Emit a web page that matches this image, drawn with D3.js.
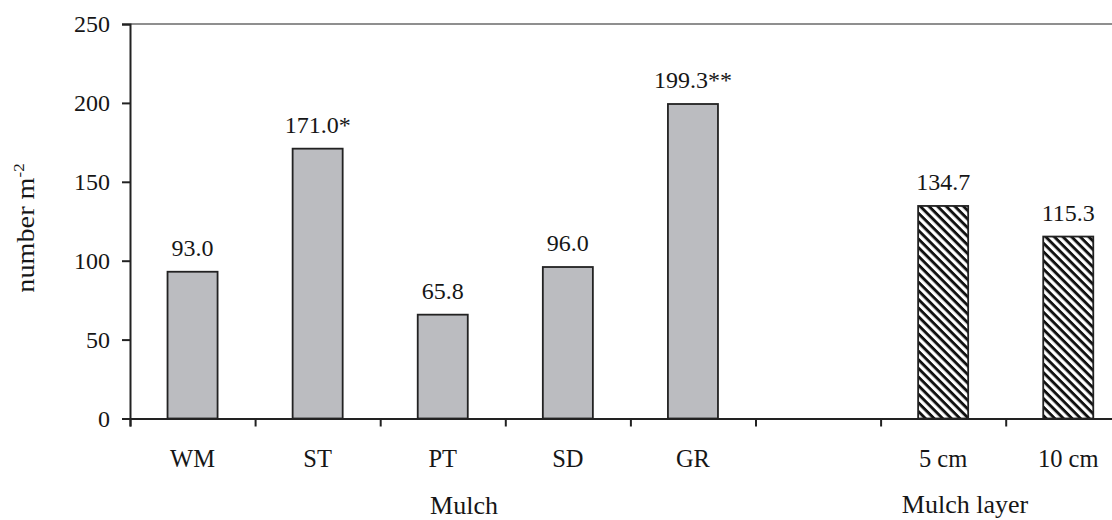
<!DOCTYPE html>
<html>
<head>
<meta charset="utf-8">
<script src="https://cdn.jsdelivr.net/npm/d3@7"></script>
<style>
  html, body { margin: 0; padding: 0; background: #fff; }
  svg { display: block; }
  text { font-family: "Liberation Serif", "Times New Roman", serif; fill: #161616; }
</style>
</head>
<body>
<svg id="chart" width="1112" height="520"></svg>
<script>
// Treatment categories (blank slot separates the two groups)
const categories = ["WM", "ST", "PT", "SD", "GR", "", "5 cm", "10 cm"];
// Number per square metre for each treatment
const values = [93.0, 171.0, 65.8, 96.0, 199.3, null, 134.7, 115.3];
// Significance marks appended to the value labels
const marks = ["", "*", "", "", "**", "", "", ""];
// Which bars belong to the mulch-layer group (hatched)
const hatched = [false, false, false, false, false, false, true, true];
// Y-axis ticks
const yTicks = [0, 50, 100, 150, 200, 250];
// Group captions under the axis
const groupNames = ["Mulch", "Mulch layer"];

const svg = d3.select("#chart");
const plotLeft = 130, plotTop = 24, plotBottom = 418.5;
const step = 125.1;
const plotRight = plotLeft + step * categories.length;

const x = d3.scaleBand()
  .domain(categories.map((c, i) => i))
  .range([plotLeft, plotRight])
  .paddingInner(0.6)
  .paddingOuter(0.3);

const xEdges = d3.scaleLinear().domain([0, categories.length]).range([plotLeft, plotRight]);

const y = d3.scaleLinear().domain([0, 250]).range([plotBottom, plotTop]);

// hatch pattern for the mulch-layer bars
const defs = svg.append("defs");
const period = 6.1;
const pat = defs.append("pattern")
  .attr("id", "hatch")
  .attr("patternUnits", "userSpaceOnUse")
  .attr("width", period)
  .attr("height", period)
  .attr("patternTransform", "rotate(45)");
pat.append("rect").attr("width", period).attr("height", period).attr("fill", "#fff");
pat.append("rect").attr("y", 0).attr("width", period).attr("height", 2.9).attr("fill", "#111");

// top frame line
svg.append("line")
  .attr("x1", plotLeft).attr("x2", 1112)
  .attr("y1", y(250)).attr("y2", y(250))
  .attr("stroke", "#6a6a6a").attr("stroke-width", 1.4);

// bars
const data = categories.map((c, i) => ({ i, c, v: values[i], m: marks[i], h: hatched[i] }))
  .filter(d => d.v !== null);

svg.append("g").selectAll("rect")
  .data(data)
  .join("rect")
  .attr("x", d => x(d.i))
  .attr("y", d => y(d.v))
  .attr("width", x.bandwidth())
  .attr("height", d => y(0) - y(d.v))
  .attr("fill", d => d.h ? "url(#hatch)" : "#bbbcc0")
  .attr("stroke", "#222")
  .attr("stroke-width", 1.8);

// value labels
svg.append("g").selectAll("text")
  .data(data)
  .join("text")
  .attr("x", d => x(d.i) + x.bandwidth() / 2)
  .attr("y", d => y(d.v) - 16)
  .attr("text-anchor", "middle")
  .attr("font-size", 24)
  .text(d => d.v.toFixed(1) + d.m);

// y axis
const yAxis = svg.append("g")
  .attr("transform", `translate(${plotLeft},0)`)
  .call(d3.axisLeft(y).tickValues(yTicks).tickSize(8).tickPadding(12).tickFormat(d3.format("d")));
yAxis.select(".domain").attr("stroke", "#222").attr("stroke-width", 2);
yAxis.selectAll(".tick line").attr("stroke", "#222").attr("stroke-width", 2);
yAxis.selectAll(".tick text")
  .attr("font-size", 24);

// x axis with ticks at category boundaries
const xAxis = svg.append("g")
  .attr("transform", `translate(0,${plotBottom})`)
  .call(d3.axisBottom(xEdges).tickValues(d3.range(categories.length + 1)).tickSize(8).tickFormat(""));
xAxis.select(".domain").attr("stroke", "#222").attr("stroke-width", 2);
xAxis.selectAll(".tick line").attr("stroke", "#222").attr("stroke-width", 2);

// category labels
svg.append("g").selectAll("text")
  .data(categories.map((c, i) => ({ c, i })).filter(d => d.c !== ""))
  .join("text")
  .attr("x", d => x(d.i) + x.bandwidth() / 2)
  .attr("y", 467)
  .attr("text-anchor", "middle")
  .attr("font-size", 24.5)
  .text(d => d.c);

// group captions
svg.append("text")
  .attr("x", 464).attr("y", 514)
  .attr("text-anchor", "middle").attr("font-size", 26)
  .text(groupNames[0]);
svg.append("text")
  .attr("x", 965).attr("y", 513)
  .attr("text-anchor", "middle").attr("font-size", 26)
  .text(groupNames[1]);

// y axis title
const yt = svg.append("text")
  .attr("transform", "translate(34,228) rotate(-90) scale(1.13,1)")
  .attr("text-anchor", "middle")
  .attr("font-size", 25);
yt.append("tspan").text("number m");
yt.append("tspan").attr("font-size", 15).attr("dy", -10).text("-2");
</script>
</body>
</html>
